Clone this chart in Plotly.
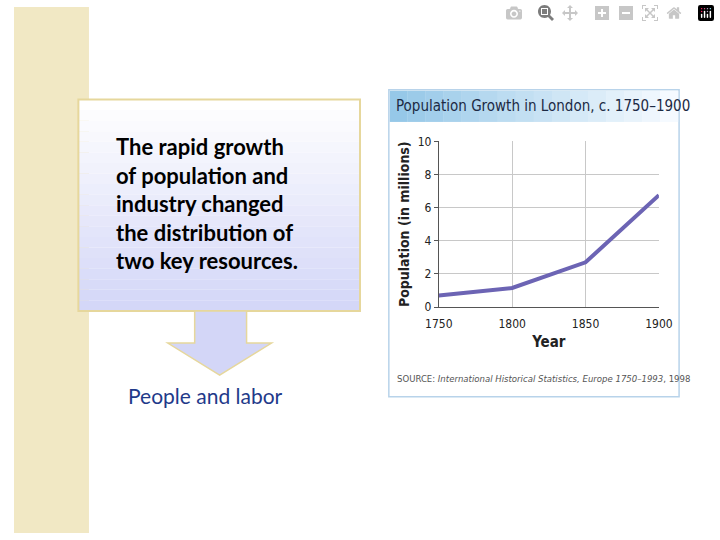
import plotly.graph_objects as go

years = [1750, 1800, 1850, 1900]
population = [0.7, 1.15, 2.7, 6.75]
x_ticks = [1750, 1800, 1850, 1900]
y_ticks = [0, 2, 4, 6, 8, 10]

W, H = 720, 540
NARROW = "DejaVu Sans Condensed, Liberation Sans Narrow, Roboto"


def px(x):
    return x / W


def py(y):
    return 1 - y / H


fig = go.Figure()
fig.add_trace(go.Scatter(x=years, y=population, mode="lines",
                         line=dict(color="#6c64b4", width=4), showlegend=False))

shapes = []
# beige stripe on the left
shapes.append(dict(type="rect", xref="paper", yref="paper", x0=0, x1=px(78), y0=0, y1=1,
                   fillcolor="#f1e8c4", line=dict(width=0), layer="below"))
# callout box, vertical gradient approximated by bands
n = 20
top, bottom = 95, 312
for i in range(n):
    t = i / (n - 1)
    r = int(255 - t * (255 - 212))
    g = int(255 - t * (255 - 215))
    b = int(255 - t * (255 - 248))
    y0 = top + (bottom - top) * i / n
    y1 = top + (bottom - top) * (i + 1) / n
    shapes.append(dict(type="rect", xref="paper", yref="paper", x0=px(67), x1=px(360),
                       y0=py(y1), y1=py(y0), fillcolor=f"rgb({r},{g},{b})",
                       line=dict(width=0), layer="below"))
shapes.append(dict(type="rect", xref="paper", yref="paper", x0=px(67), x1=px(360),
                   y0=py(312), y1=py(95), line=dict(color="#e6d79c", width=2), layer="below"))
# arrow
pts = [(188, 312), (242, 312), (242, 345), (268, 345), (214, 378), (160, 345), (188, 345)]
path = "M " + " L ".join(f"{px(a):.4f},{py(b):.4f}" for a, b in pts) + " Z"
shapes.append(dict(type="path", xref="paper", yref="paper", path=path,
                   fillcolor="#d3d6f7", line=dict(color="#e6d79c", width=1.5), layer="below"))
# chart frame and title band
shapes.append(dict(type="rect", xref="paper", yref="paper", x0=px(390), x1=px(692),
                   y0=py(400), y1=py(85), fillcolor="white",
                   line=dict(color="#b8d3ea", width=1.5), layer="below"))
m = 16
for i in range(m):
    t = i / (m - 1)
    r = int(150 + t * (245 - 150))
    g = int(200 + t * (250 - 200))
    b = int(232 + t * (255 - 232))
    shapes.append(dict(type="rect", xref="paper", yref="paper",
                       x0=px(391 + 300 * i / m), x1=px(391 + 300 * (i + 1) / m),
                       y0=py(118), y1=py(86), fillcolor=f"rgb({r},{g},{b})",
                       line=dict(width=0), layer="below"))

fig.update_layout(
    width=W, height=H, margin=dict(l=0, r=0, t=0, b=0),
    paper_bgcolor="white", plot_bgcolor="white", shapes=shapes,
    font=dict(family=NARROW, color="#222"),
    xaxis=dict(domain=[px(442), px(671)], range=[1750, 1900], tickvals=x_ticks,
               showgrid=True, gridcolor="#c8c8c8", zeroline=False,
               showline=True, linecolor="#555", tickfont=dict(size=12),
               ticks="outside", ticklen=6, tickcolor="rgba(0,0,0,0)",
               title=dict(text="<b>Year</b>", font=dict(size=15), standoff=6)),
    yaxis=dict(domain=[py(308), py(138)], range=[0, 10], tickvals=y_ticks,
               showgrid=True, gridcolor="#c8c8c8", zeroline=False,
               showline=True, linecolor="#555", tickfont=dict(size=12),
               ticks="outside", ticklen=4, tickcolor="#555",
               title=dict(text="<b>Population (in millions)</b>", font=dict(size=14),
                          standoff=4)),
)

fig.add_annotation(xref="paper", yref="paper", x=px(395), y=py(102), xanchor="left",
                   yanchor="middle", showarrow=False,
                   text="Population Growth in London, c. 1750–1900",
                   font=dict(size=15, color="#1c2a44", family=NARROW))
fig.add_annotation(xref="paper", yref="paper", x=px(396), y=py(381), xanchor="left",
                   yanchor="middle", showarrow=False,
                   text="SOURCE: <i>International Historical Statistics, Europe 1750–1993</i>, 1998",
                   font=dict(size=9.5, color="#555", family=NARROW))
fig.add_annotation(xref="paper", yref="paper", x=px(104), y=py(202), xanchor="left",
                   yanchor="middle", showarrow=False, align="left",
                   text="<b>The rapid growth<br>of population and<br>industry changed<br>"
                        "the distribution of<br>two key resources.</b>",
                   font=dict(size=22, color="black", family="Lato"))
fig.add_annotation(xref="paper", yref="paper", x=px(117), y=py(399), xanchor="left",
                   yanchor="middle", showarrow=False, text="People and labor",
                   font=dict(size=21, color="#1f3a8a", family="Lato"))

fig.write_html("out.html")

# drop the page's default body margin so the figure sits at the window's corner
with open("out.html", encoding="utf-8") as f:
    html = f.read()
html = html.replace("<head>", "<head><style>body{margin:0;overflow:hidden}</style>", 1)
with open("out.html", "w", encoding="utf-8") as f:
    f.write(html)
